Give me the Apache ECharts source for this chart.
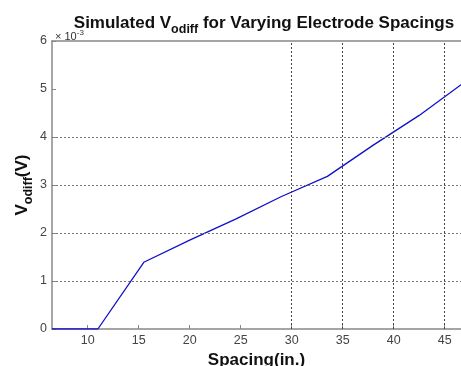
<!DOCTYPE html>
<html>
<head>
<meta charset="utf-8">
<script src="https://cdn.jsdelivr.net/npm/echarts@6/dist/echarts.min.js"></script>
<style>html,body{margin:0;padding:0;background:#fff;}#c{width:461px;height:366px;}</style>
</head>
<body>
<div id="c"></div>
<script>
const spacing = [6.5, 11, 15.5, 20, 24.5, 29, 33.5, 38, 42.5, 47];
const vodiff = [0, 0, 1.39, 1.85, 2.29, 2.76, 3.18, 3.83, 4.45, 5.15]; // x 10^-3 V
const xTicks = [10, 15, 20, 25, 30, 35, 40, 45];
const yTicks = [0, 1, 2, 3, 4, 5, 6];
const hGrid = [1, 2, 3, 4];
const vGrid = [30, 35, 40, 45];

const chart = echarts.init(document.getElementById('c'));
const font = 'Liberation Sans, Arial, sans-serif';
chart.setOption({
  animation: false,
  title: {
    text: 'Simulated V{sub|odiff} for Varying Electrode Spacings',
    left: 259, top: 5, textAlign: 'center',
    textStyle: {
      fontFamily: font, fontSize: 17, fontWeight: 'bold', color: '#111',
      rich: { sub: { fontFamily: font, fontSize: 12.5, fontWeight: 'bold', color: '#111', padding: [13, 0, 0, 0] } }
    }
  },
  graphic: [{
    type: 'text', left: 55, top: 29,
    style: { text: '× 10{sup|-3}', fontFamily: font, fontSize: 11, fill: '#333',
      rich: { sup: { fontSize: 8, fill: '#333', padding: [0, 0, 7, 0] } } }
  }],
  grid: { left: 52, right: 0, top: 41, bottom: 37, containLabel: false, outerBoundsMode: 'none' },
  xAxis: [{
    type: 'value', min: 6.5, max: 46.6,
    name: 'Spacing(in.)', nameLocation: 'middle', nameGap: 23, nameMoveOverlap: false,
    nameTextStyle: { fontFamily: font, fontSize: 17, fontWeight: 'bold', color: '#111' },
    axisLine: { show: true, lineStyle: { color: '#888', width: 1.5 } },
    axisTick: { show: true, inside: true, length: 4, customValues: xTicks, lineStyle: { color: '#888' } },
    axisLabel: { customValues: xTicks, fontFamily: font, fontSize: 12.5, color: '#444', margin: 5 },
    splitLine: { show: false }
  }, {
    type: 'value', position: 'top', min: 6.5, max: 46.6,
    axisLine: { show: true, lineStyle: { color: '#888', width: 1.5 } },
    axisTick: { show: false }, axisLabel: { show: false }, splitLine: { show: false }
  }],
  yAxis: {
    type: 'value', min: 0, max: 6, interval: 1,
    name: 'V{sub|odiff}(V)', nameLocation: 'middle', nameGap: 17, nameRotate: 90, nameMoveOverlap: false,
    nameTextStyle: { fontFamily: font, fontSize: 17, fontWeight: 'bold', color: '#111',
      rich: { sub: { fontFamily: font, fontSize: 12.5, fontWeight: 'bold', color: '#111', padding: [13, 0, 0, 0] } } },
    axisLine: { show: true, lineStyle: { color: '#888', width: 1.5 } },
    axisTick: { show: true, inside: true, length: 4, lineStyle: { color: '#888' } },
    axisLabel: { fontFamily: font, fontSize: 12.5, color: '#444', margin: 5, customValues: yTicks },
    splitLine: { show: false }
  },
  series: [{
    type: 'line', data: spacing.map((s, i) => [s, vodiff[i]]),
    showSymbol: false, symbol: 'none', clip: true,
    lineStyle: { color: '#1010c8', width: 1.3 },
    markLine: {
      silent: true, symbol: 'none', label: { show: false },
      lineStyle: { type: [2, 2], color: '#777', width: 1 },
      data: hGrid.map(v => ({ yAxis: v })).concat(vGrid.map(v => ({ xAxis: v, lineStyle: { color: '#444', type: [2, 2], width: 1 } })))
    }
  }]
});
</script>
</body>
</html>
